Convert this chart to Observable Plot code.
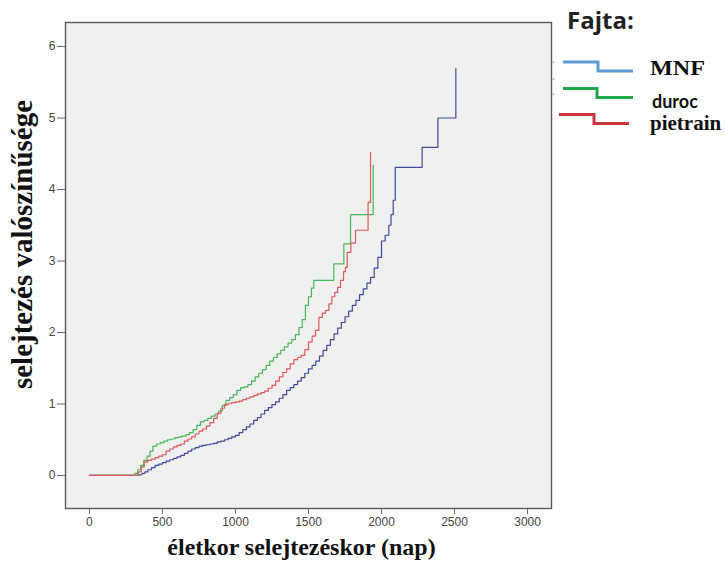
<!DOCTYPE html>
<html>
<head>
<meta charset="utf-8">
<script src="https://cdn.jsdelivr.net/npm/d3@7"></script>
<script src="https://cdn.jsdelivr.net/npm/@observablehq/plot@0.6"></script>
<style>
  body { margin: 0; background: #fff; }
</style>
</head>
<body>
<div id="chart"></div>
<script>
// Cumulative culling hazard by breed (age at culling in days)
const breeds = ["MNF", "duroc", "pietrain"];

const mnfDays = [0, 340, 360, 380, 400, 425, 450, 475, 500, 525, 550, 575, 600, 625, 650, 675, 700, 725, 750, 775, 800, 825, 850, 875, 900, 925, 950, 975, 1000, 1025, 1050, 1075, 1100, 1125, 1150, 1175, 1200, 1225, 1250, 1275, 1300, 1325, 1350, 1375, 1400, 1425, 1450, 1475, 1500, 1525, 1550, 1575, 1600, 1625, 1650, 1675, 1700, 1725, 1750, 1775, 1800, 1825, 1850, 1875, 1900, 1925, 1950, 1975, 2000, 2025, 2050, 2065, 2080, 2094, 2278, 2386, 2509];
const mnfProb = [0, 0.01, 0.03, 0.05, 0.08, 0.11, 0.14, 0.16, 0.18, 0.20, 0.22, 0.24, 0.26, 0.28, 0.31, 0.34, 0.37, 0.39, 0.41, 0.42, 0.43, 0.44, 0.45, 0.47, 0.48, 0.50, 0.52, 0.54, 0.56, 0.60, 0.64, 0.68, 0.72, 0.77, 0.81, 0.86, 0.91, 0.95, 0.99, 1.03, 1.08, 1.13, 1.19, 1.23, 1.27, 1.32, 1.37, 1.43, 1.49, 1.54, 1.60, 1.67, 1.75, 1.82, 1.90, 1.98, 2.06, 2.14, 2.22, 2.30, 2.38, 2.45, 2.53, 2.61, 2.69, 2.77, 2.90, 3.05, 3.28, 3.36, 3.50, 3.65, 3.85, 4.31, 4.59, 5.00, 5.69];

const durocDays = [0, 292, 310, 330, 350, 372, 395, 415, 435, 460, 485, 510, 535, 560, 585, 610, 635, 660, 685, 710, 735, 760, 785, 810, 835, 860, 885, 910, 935, 960, 985, 1010, 1035, 1060, 1085, 1110, 1135, 1160, 1185, 1210, 1235, 1260, 1285, 1310, 1335, 1360, 1385, 1410, 1435, 1457, 1479, 1500, 1520, 1536, 1673, 1742, 1788, 1943];
const durocProb = [0, 0, 0.03, 0.08, 0.14, 0.21, 0.27, 0.34, 0.41, 0.44, 0.46, 0.48, 0.50, 0.51, 0.53, 0.54, 0.55, 0.57, 0.60, 0.64, 0.70, 0.75, 0.77, 0.80, 0.83, 0.86, 0.90, 0.98, 1.05, 1.09, 1.13, 1.19, 1.23, 1.24, 1.27, 1.32, 1.38, 1.43, 1.48, 1.54, 1.60, 1.65, 1.70, 1.75, 1.80, 1.85, 1.90, 1.97, 2.07, 2.18, 2.38, 2.50, 2.62, 2.73, 2.96, 3.24, 3.65, 4.34];

const pietrainDays = [0, 315, 335, 355, 375, 400, 425, 450, 475, 500, 525, 550, 575, 600, 625, 650, 675, 700, 725, 750, 775, 800, 825, 850, 875, 900, 925, 950, 975, 1000, 1025, 1050, 1075, 1100, 1125, 1150, 1175, 1200, 1225, 1250, 1275, 1300, 1325, 1350, 1375, 1400, 1425, 1450, 1475, 1500, 1525, 1548, 1571, 1595, 1616, 1640, 1660, 1680, 1700, 1719, 1740, 1753, 1765, 1790, 1822, 1908, 1925];
const pietrainProb = [0, 0, 0.05, 0.12, 0.19, 0.21, 0.23, 0.25, 0.27, 0.29, 0.34, 0.37, 0.40, 0.42, 0.44, 0.48, 0.51, 0.54, 0.58, 0.62, 0.65, 0.69, 0.74, 0.80, 0.87, 0.94, 0.99, 1.01, 1.02, 1.03, 1.04, 1.06, 1.08, 1.10, 1.12, 1.14, 1.16, 1.18, 1.22, 1.26, 1.32, 1.38, 1.44, 1.49, 1.56, 1.62, 1.65, 1.68, 1.76, 1.87, 1.95, 2.03, 2.21, 2.27, 2.31, 2.40, 2.50, 2.56, 2.63, 2.73, 2.85, 2.91, 3.12, 3.25, 3.43, 3.82, 4.52];

const xTicks = [0, 500, 1000, 1500, 2000, 2500, 3000];
const yTicks = [0, 1, 2, 3, 4, 5, 6];

const xTitle = "életkor selejtezéskor (nap)";
const yTitle = "selejtezés valószínűsége";
const legendTitle = "Fajta:";

const lineColors = ["#3f4c9c", "#45b955", "#e05858"];
const legendColors = ["#5b9bd5", "#1ea84c", "#c9363e"];

// long-format table for the line mark
const rows = [];
function addSeries(name, days, probs) {
  days.forEach((d, i) => rows.push({ breed: name, day: d, p: probs[i] }));
}
addSeries(breeds[0], mnfDays, mnfProb);
addSeries(breeds[1], durocDays, durocProb);
addSeries(breeds[2], pietrainDays, pietrainProb);

const serif = "'Liberation Serif', 'Times New Roman', serif";

const chart = Plot.plot({
  width: 725,
  height: 567,
  marginLeft: 65,
  marginRight: 174,
  marginTop: 22,
  marginBottom: 59,
  style: { fontFamily: "'Liberation Sans', Arial, sans-serif", fontSize: "12px", color: "#444", background: "#fff" },
  x: { domain: [-164, 3164] },
  y: { domain: [-0.462, 6.336] },
  color: { domain: breeds, range: lineColors },
  marks: [
    Plot.frame({ fill: "#f0f0f0", stroke: null }),
    Plot.axisX({ ticks: xTicks, tickSize: 6, tickPadding: 3, label: null, stroke: "#666", fill: "#444", tickFormat: d => `${d}` }),
    Plot.axisY({ ticks: yTicks, tickSize: 8, tickPadding: 2, label: null, stroke: "#666", fill: "#444", tickFormat: d => `${d}` }),
    Plot.line(rows, { x: "day", y: "p", z: "breed", stroke: "breed", curve: "step-after", strokeWidth: 1.2 }),
    Plot.frame({ stroke: "#5a5a5a", strokeWidth: 1.4 }),
    Plot.text([xTitle], { text: d => d, frameAnchor: "bottom", textAnchor: "middle", dx: -7, dy: 46, fontSize: 24, fontWeight: "bold", fontFamily: serif, fill: "#111" }),
    Plot.text([yTitle], { text: d => d, frameAnchor: "left", textAnchor: "middle", lineAnchor: "middle", rotate: -90, dx: -43, dy: -21, fontSize: 29, fontWeight: "bold", fontFamily: serif, fill: "#111" })
  ]
});

document.getElementById("chart").appendChild(chart);

// legend drawn to the right of the plot frame
const svg = d3.select(chart);
const lg = svg.append("g").attr("class", "breed-legend").attr("text-anchor", "start");

lg.append("text")
  .attr("x", 567).attr("y", 29)
  .attr("font-family", "'Open Sans', sans-serif")
  .attr("font-weight", "bold").attr("font-size", 24)
  .attr("fill", "#222")
  .text(legendTitle);

// small marks on the frame's right edge
[62, 79, 94].forEach(y => {
  lg.append("line").attr("x1", 552).attr("x2", 555).attr("y1", y).attr("y2", y)
    .attr("stroke", "#aaa").attr("stroke-width", 1);
});

const steps = [
  { x0: 563, xm: 598, x1: 633, yUp: 62, yLow: 71 },
  { x0: 563, xm: 597, x1: 633, yUp: 88.5, yLow: 97.5 },
  { x0: 559, xm: 594, x1: 629, yUp: 114.5, yLow: 123.5 }
];
steps.forEach((s, i) => {
  lg.append("path")
    .attr("d", `M${s.x0},${s.yUp}H${s.xm}V${s.yLow}H${s.x1}`)
    .attr("fill", "none").attr("stroke", legendColors[i]).attr("stroke-width", 3);
});

const labelStyles = [
  { x: 650, y: 75, family: serif, size: 20, len: 55 },
  { x: 652, y: 108, family: "Lato, sans-serif", size: 18, len: null },
  { x: 650, y: 130, family: serif, size: 21, len: null }
];
labelStyles.forEach((l, i) => {
  const t = lg.append("text")
    .attr("x", l.x).attr("y", l.y)
    .attr("text-anchor", "start")
    .attr("font-family", l.family).attr("font-weight", "bold")
    .attr("font-size", l.size).attr("fill", "#111")
    .text(breeds[i]);
  if (l.len) t.attr("textLength", l.len).attr("lengthAdjust", "spacingAndGlyphs");
});
</script>
</body>
</html>
